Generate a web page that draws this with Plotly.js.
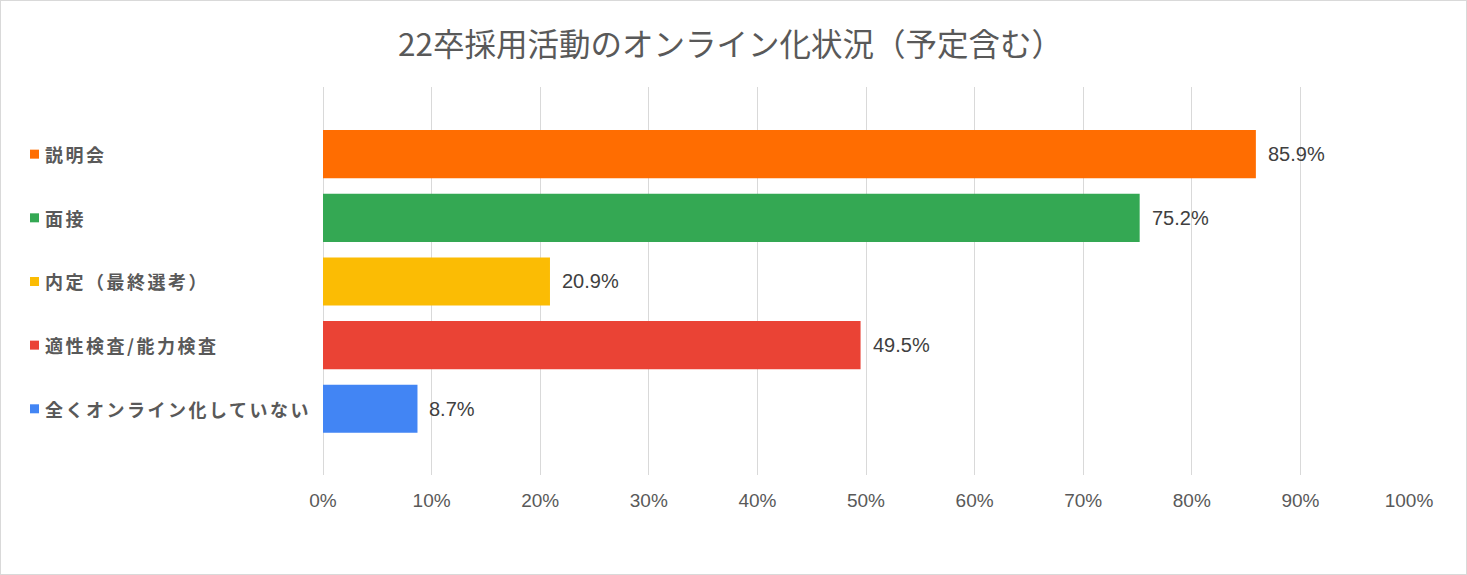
<!DOCTYPE html>
<html>
<head>
<meta charset="utf-8">
<script src="https://cdn.plot.ly/plotly-3.0.1.min.js"></script>
<style>
  html, body { margin: 0; padding: 0; background: #fff; }
  #chart { width: 1465px; height: 573px; border: 1px solid #d9d9d9; }
</style>
</head>
<body>
<div id="chart"></div>
<script>
const categories = ['説明会', '面接', '内定（最終選考）', '適性検査/能力検査', '全くオンライン化していない'];
const values = [85.9, 75.2, 20.9, 49.5, 8.7];
const colors = ['#FF6D01', '#34A853', '#FBBC04', '#EA4335', '#4285F4'];
const tickVals = [0, 10, 20, 30, 40, 50, 60, 70, 80, 90, 100];
const tickText = ['0%', '10%', '20%', '30%', '40%', '50%', '60%', '70%', '80%', '90%', '100%'];
const titleText = '22卒採用活動のオンライン化状況（予定含む）';

const idx = categories.map((_, i) => i);
const yRange = [5.04, -1.055];

const trace = {
  type: 'bar',
  orientation: 'h',
  x: values,
  y: idx,
  marker: { color: colors },
  width: 0.756,
  hoverinfo: 'skip'
};

const annotations = [];
categories.forEach((c, i) => {
  annotations.push({
    x: 0, y: i, xref: 'x', yref: 'y',
    text: c, showarrow: false,
    xanchor: 'left', yanchor: 'middle',
    xshift: -280,
    font: { family: '"Noto Sans CJK JP", sans-serif', size: 18, color: '#595959', weight: 700 }
  });
});
values.forEach((v, i) => {
  annotations.push({
    x: v, y: i, xref: 'x', yref: 'y',
    text: v.toFixed(1) + '%', showarrow: false,
    xanchor: 'left', yanchor: 'middle',
    xshift: 10,
    font: { family: '"Liberation Sans", Arial, sans-serif', size: 20, color: '#404040' }
  });
});

// legend-like colour squares, placed in paper space at each category row
const shapes = categories.map((c, i) => ({
  type: 'rect', xref: 'paper', yref: 'paper',
  xsizemode: 'pixel', ysizemode: 'pixel',
  xanchor: 0, yanchor: (yRange[0] - i) / (yRange[0] - yRange[1]),
  x0: -293, x1: -284, y0: -4.5, y1: 4.5,
  fillcolor: colors[i], line: { width: 0 }
}));

const layout = {
  width: 1465, height: 573,
  margin: { l: 322, r: 57, t: 86, b: 99 },
  paper_bgcolor: '#ffffff', plot_bgcolor: '#ffffff',
  showlegend: false,
  title: {
    text: titleText,
    x: 0.498, xref: 'container', xanchor: 'center',
    y: 0.923, yref: 'container', yanchor: 'middle',
    font: { family: '"Noto Sans CJK JP", sans-serif', size: 31.5, color: '#595959' }
  },
  xaxis: {
    range: [0, 100],
    tickvals: tickVals, ticktext: tickText,
    showgrid: true, gridcolor: '#d9d9d9', gridwidth: 1,
    zeroline: true, zerolinecolor: '#d9d9d9', zerolinewidth: 1,
    showline: false, ticks: '',
    ticklabelstandoff: 12,
    tickfont: { family: '"Liberation Sans", Arial, sans-serif', size: 19, color: '#595959' },
    fixedrange: true
  },
  yaxis: {
    range: yRange,
    showticklabels: false, showgrid: false, zeroline: false, ticks: '',
    fixedrange: true
  },
  annotations: annotations,
  shapes: shapes
};

Plotly.newPlot('chart', [trace], layout, { displayModeBar: false, staticPlot: true }).then(() => {
  document.querySelectorAll('.annotation-text').forEach(el => {
    if (/[^\x00-\x7F]/.test(el.textContent)) {
      const bb = el.getBBox();
      el.setAttribute('text-anchor', 'start');
      el.setAttribute('x', bb.x);
      el.querySelectorAll('tspan').forEach(t => { if (t.hasAttribute('x')) t.setAttribute('x', bb.x); });
      el.style.letterSpacing = '2.5px';
    }
  });
});
</script>
</body>
</html>
